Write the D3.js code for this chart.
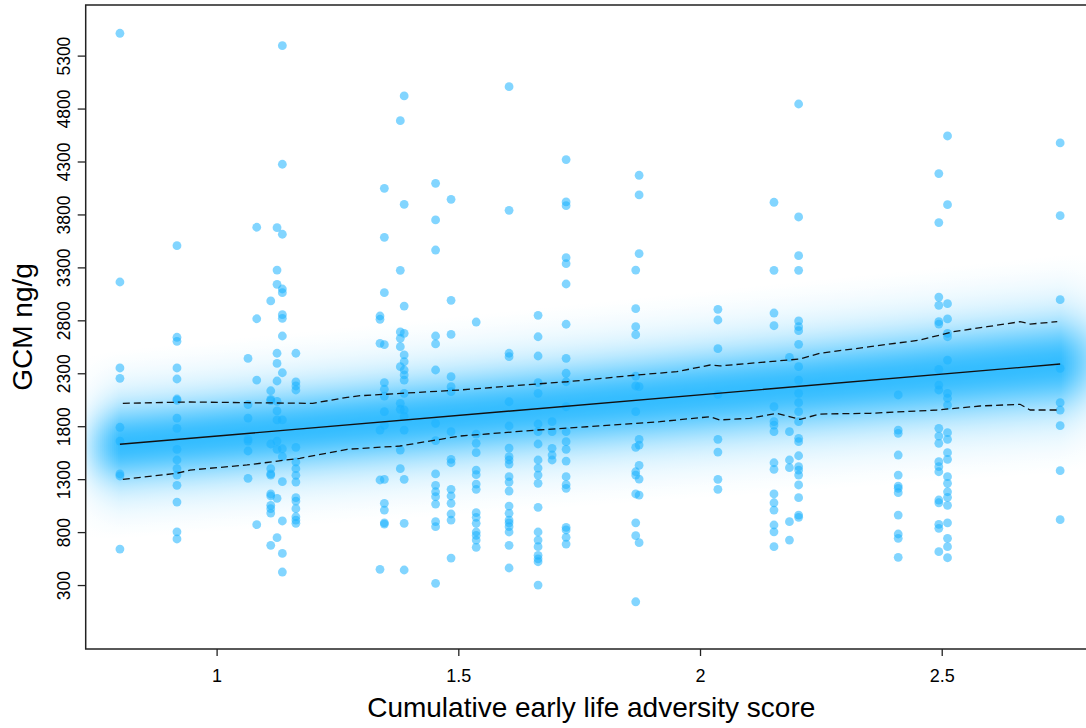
<!DOCTYPE html>
<html>
<head>
<meta charset="utf-8">
<script src="https://cdn.jsdelivr.net/npm/d3@7"></script>
<style>
  body { margin: 0; background: #fff; }
  text { font-family: "Liberation Sans", Arial, sans-serif; fill: #000; }
</style>
</head>
<body>
<div id="chart"></div>
<script>
// adversity score columns and GCM values (ng/g) in each column
var colX = [0.8, 0.918, 1.065, 1.083, 1.112, 1.125, 1.136, 1.164, 1.338, 1.347, 1.38, 1.388,
  1.453, 1.485, 1.537, 1.605, 1.665, 1.694, 1.723, 1.867, 1.874, 2.037, 2.153, 2.185, 2.204,
  2.41, 2.494, 2.512, 2.745];
var colY = [
  [5511, 3162, 2350, 2252, 1790, 1660, 1349, 1330, 640],
  [3505, 2640, 2602, 2350, 2246, 2057, 2045, 1877, 1780, 1582, 1481, 1399, 1339, 1242, 1084, 803, 735],
  [2440, 2003, 1877, 1679, 1660, 1566, 1308],
  [3679, 2815, 2236, 870],
  [2983, 2135, 2054, 2041, 1632, 1399, 1349, 1339, 1160, 1141, 1053, 1021, 980, 675],
  [3675, 3275, 3140, 2489, 2393, 2227, 2035, 1944, 1859, 1660, 1582, 1119, 747],
  [5394, 4274, 3613, 3096, 3061, 2853, 2819, 2652, 2305, 1859, 1587, 1512, 1276, 905, 599, 423],
  [2489, 2218, 2180, 2142, 1601, 1462, 1399, 1336, 1273, 1125, 1093, 1021, 945, 914, 883],
  [2841, 2810, 2583, 1764, 1292, 448],
  [4047, 3584, 3061, 2570, 2211, 2149, 2085, 1937, 1809, 1298, 1072, 1008, 888, 876],
  [4686, 3272, 2690, 2630, 2551, 2362, 2016, 1960, 1575, 1399],
  [4919, 3896, 2935, 2677, 2473, 2409, 2331, 2284, 2236, 2111, 1953, 1890, 1764, 1298, 883, 442],
  [4094, 3748, 3464, 2652, 2577, 2331, 1827, 1663, 1349, 1242, 1181, 1134, 1065, 898, 851, 316],
  [3943, 2989, 2667, 2268, 2173, 2126, 1748, 1487, 1455, 1204, 1141, 1072, 971, 914, 555],
  [2784, 1726, 1638, 1550, 1386, 1342, 1254, 1204, 983, 940, 883, 801, 769, 725, 656],
  [5007, 3839, 2489, 2457, 2031, 1802, 1594, 1512, 1481, 1443, 1323, 1273, 1188, 1046, 977, 914, 888, 851, 801, 675, 461],
  [2847, 2645, 2463, 2211, 2111, 1821, 1748, 1632, 1481, 1405, 1339, 1261, 1034, 801, 725, 662, 581, 548, 520, 300],
  [1843, 1748, 1591, 1528, 1481],
  [4318, 3918, 3883, 3392, 3335, 3143, 2763, 2441, 2300, 2220, 1984, 1748, 1654, 1582, 1471, 1323, 1248, 1213, 845, 820, 751, 687],
  [3275, 2910, 2740, 2664, 2274, 2180, 1937, 1601, 1370, 1339, 1160, 888, 766, 142],
  [4170, 3984, 3430, 2173, 1676, 1622, 1431, 1301, 1150, 700],
  [2904, 2803, 2532, 2100, 1676, 1556, 1298, 1204],
  [3915, 3272, 2869, 2749, 1984, 1843, 1811, 1748, 1455, 1393, 1160, 1077, 1008, 867, 803, 662],
  [2450, 1748, 1481, 1408, 898, 725],
  [4843, 3776, 3411, 3272, 2794, 2740, 2702, 2573, 2362, 2236, 2111, 2022, 1937, 1843, 1686, 1654, 1521, 1418, 1386, 1339, 1245, 1125, 961, 940],
  [2095, 1764, 1733, 1528, 1339, 1235, 1213, 1172, 961, 782, 741, 562],
  [4186, 3723, 3020, 2942, 2787, 2765, 2337, 2189, 2142, 1780, 1707, 1638, 1465, 1418, 1370, 1103, 1077, 873, 836, 615],
  [4541, 3892, 2957, 2813, 2677, 2645, 2425, 2111, 2064, 2000, 1739, 1676, 1550, 1487, 1323, 1261, 1181, 1128, 1053, 888, 741, 662, 558],
  [4475, 3788, 2995, 2347, 2022, 1953, 1805, 1380, 917]
];

// fitted line and spread of the shaded band
var fitX = [0.8, 2.745];
var fitY = [1629, 2387];
var bandSpread = [900, 1040];

// dashed interval lines
var upperX = [0.806, 0.945, 1.063, 1.199, 1.27, 1.297, 1.503, 1.663, 1.725, 1.87, 1.952, 2.021,
  2.041, 2.207, 2.248, 2.352, 2.455, 2.524, 2.594, 2.662, 2.683, 2.739];
var upperY = [2016, 2029, 2022, 2016, 2073, 2088, 2142, 2199, 2220, 2284, 2315, 2378,
  2369, 2435, 2489, 2551, 2614, 2693, 2740, 2787, 2765, 2787];
var lowerX = [0.806, 0.918, 0.945, 1.063, 1.172, 1.27, 1.379, 1.503, 1.663, 1.766, 1.917, 2.021,
  2.041, 2.103, 2.159, 2.207, 2.248, 2.352, 2.49, 2.579, 2.662, 2.683, 2.739];
var lowerY = [1298, 1355, 1386, 1434, 1497, 1582, 1613, 1707, 1764, 1795, 1843, 1890,
  1859, 1875, 1922, 1865, 1915, 1922, 1953, 1991, 2007, 1953, 1953];

var xTicks = [1, 1.5, 2, 2.5];
var yTicks = [300, 800, 1300, 1800, 2300, 2800, 3300, 3800, 4300, 4800, 5300];

var width = 1086,
  height = 728,
  svg = d3
    .select("#chart")
    .append("svg")
    .attr("width", width)
    .attr("height", height);

var plot = { left: 85.7, right: 1096.8, top: 5, bottom: 649 };

var x = d3.scaleLinear().domain([0.7292, 2.8208]).range([plot.left, plot.right]);
var y = d3.scaleLinear().domain([-304, 5778]).range([plot.bottom, plot.top]);

svg.append("clipPath").attr("id", "clip")
  .append("rect")
  .attr("x", plot.left).attr("y", plot.top)
  .attr("width", plot.right - plot.left).attr("height", plot.bottom - plot.top);

// vertical fade used for the band (dense core, soft tails that reach zero at the edge)
var grad = svg.append("defs").append("linearGradient")
  .attr("id", "band").attr("x1", 0).attr("y1", 0).attr("x2", 0).attr("y2", 1);
d3.range(0, 1.0001, 0.025).forEach(function(o) {
  var d = Math.abs(o * 2 - 1);
  var a = 0.64 * Math.exp(-0.5 * Math.pow(d / 0.24, 2)) + 0.22 * Math.exp(-0.5 * Math.pow(d / 0.48, 2));
  a *= 1 - Math.pow(d, 4);
  grad.append("stop").attr("offset", o).attr("stop-color", "#1cb5ff").attr("stop-opacity", a);
});

var g = svg.append("g").attr("clip-path", "url(#clip)");

var centre = d3.scaleLinear().domain(fitX).range(fitY);
var spread = d3.scaleLinear().domain(fitX).range(bandSpread);
var fade = d3.scaleLinear()
  .domain([x.domain()[0], fitX[0], fitX[1], x.domain()[1]])
  .range([0.2, 1, 1, 0.3])
  .clamp(true);

var strips = d3.range(plot.left, width, 2);
g.selectAll("rect.strip")
  .data(strips)
  .enter()
  .append("rect")
  .attr("class", "strip")
  .attr("x", function(px) { return px; })
  .attr("width", 2.6)
  .attr("y", function(px) {
    var v = x.invert(px + 1);
    return y(centre(v) + spread(v));
  })
  .attr("height", function(px) {
    var v = x.invert(px + 1);
    return y(centre(v) - spread(v)) - y(centre(v) + spread(v));
  })
  .attr("fill", "url(#band)")
  .attr("opacity", function(px) { return fade(x.invert(px + 1)); });

// points
var points = [];
colX.forEach(function(cx, i) {
  colY[i].forEach(function(v) { points.push({ x: cx, y: v }); });
});

g.selectAll("circle")
  .data(points)
  .enter()
  .append("circle")
  .attr("cx", function(d) { return x(d.x); })
  .attr("cy", function(d) { return y(d.y); })
  .attr("r", 4.4)
  .attr("fill", "#1cb2ff")
  .attr("fill-opacity", 0.55);

// interval lines and fit
var line = d3.line()
  .x(function(d) { return x(d[0]); })
  .y(function(d) { return y(d[1]); });

g.append("path")
  .attr("d", line(d3.zip(upperX, upperY)))
  .attr("fill", "none").attr("stroke", "#111").attr("stroke-width", 1.3)
  .attr("stroke-dasharray", "7,4");
g.append("path")
  .attr("d", line(d3.zip(lowerX, lowerY)))
  .attr("fill", "none").attr("stroke", "#111").attr("stroke-width", 1.3)
  .attr("stroke-dasharray", "7,4");
g.append("path")
  .attr("d", line(d3.zip(fitX, fitY)))
  .attr("fill", "none").attr("stroke", "#111").attr("stroke-width", 1.4);

// box
svg.append("rect")
  .attr("x", plot.left).attr("y", plot.top)
  .attr("width", plot.right - plot.left).attr("height", plot.bottom - plot.top)
  .attr("fill", "none").attr("stroke", "#222").attr("stroke-width", 1.5);

// axes
var xAxis = svg.append("g")
  .attr("transform", `translate(0,${plot.bottom})`)
  .call(d3.axisBottom(x).tickValues(xTicks).tickFormat(d3.format("")).tickSize(7).tickPadding(13));
xAxis.select(".domain").remove();
xAxis.selectAll("line").attr("stroke", "#222").attr("stroke-width", 1.3);
xAxis.selectAll("text").style("font-size", "18px").attr("font-family", null);

var yAxis = svg.append("g")
  .attr("transform", `translate(${plot.left},0)`)
  .call(d3.axisLeft(y).tickValues(yTicks).tickFormat(d3.format("d")).tickSize(8));
yAxis.select(".domain").remove();
yAxis.selectAll("line").attr("stroke", "#222").attr("stroke-width", 1.3);
yAxis.selectAll("text")
  .style("font-size", "17.5px")
  .attr("font-family", null)
  .attr("x", null).attr("dy", null)
  .attr("text-anchor", "middle")
  .attr("transform", "translate(-16,0) rotate(-90)");

svg.append("text")
  .attr("x", (plot.left + plot.right) / 2)
  .attr("y", 717)
  .attr("text-anchor", "middle")
  .style("font-size", "28px")
  .text("Cumulative early life adversity score");

svg.append("text")
  .attr("transform", `translate(32, ${(plot.top + plot.bottom) / 2}) rotate(-90)`)
  .attr("text-anchor", "middle")
  .style("font-size", "28px")
  .text("GCM ng/g");
</script>
</body>
</html>
